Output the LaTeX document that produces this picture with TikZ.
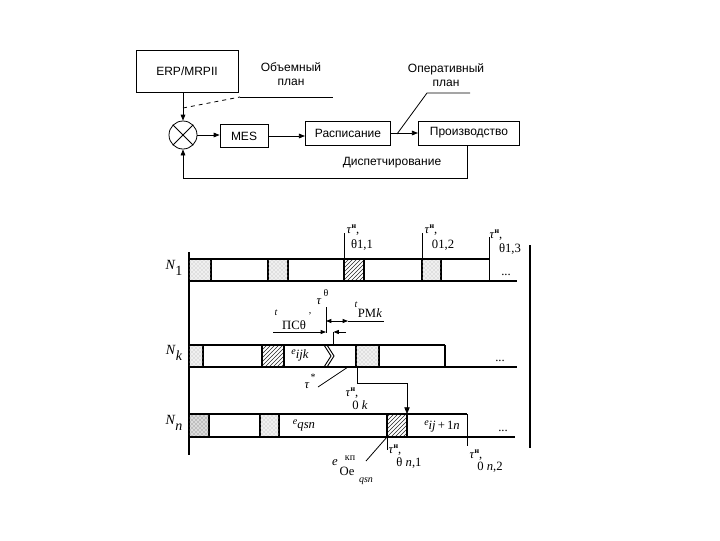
\documentclass[tikz,border=0pt]{standalone}
\usepackage{fontspec}
\setmainfont{Liberation Serif}
\newfontfamily\ars{Liberation Sans}
\usetikzlibrary{arrows.meta,patterns}
\newcommand{\smt}[1]{{\fontsize{7.5}{8}\selectfont #1}}
\newcommand{\tauh}{\textit{τ}\raisebox{3.5pt}{\fontsize{6}{6}\selectfont\bfseries н},}
\begin{document}
\begin{tikzpicture}[x=0.75pt,y=-0.75pt,
  box/.style={draw, line width=0.6pt, inner sep=0, font=\ars\fontsize{9}{10}\selectfont},
  sans/.style={font=\ars\fontsize{9}{10.5}\selectfont, align=center, inner sep=0},
  ln/.style={line width=0.6pt},
  arr/.style={ln, -{Triangle[length=4.5pt,width=3.5pt]}},
  ser/.style={font=\fontsize{9.5}{10}\selectfont, inner sep=0},
  rowl/.style={line width=1pt},
  edgel/.style={line width=1.2pt},
  dotblk/.style={fill=black!6, postaction={pattern=crosshatch dots, pattern color=black!32}},
  dotblkd/.style={fill=black!14, postaction={pattern=crosshatch dots, pattern color=black!60}},
  hatchblk/.style={pattern=north east lines, pattern color=black!85},
  axisl/.style={line width=2.2pt},
  dim/.style={line width=0.6pt, {Triangle[length=4pt,width=3pt]}-{Triangle[length=4pt,width=3pt]}},
  dimr/.style={line width=0.6pt, -{Triangle[length=4pt,width=3pt]}}]
\useasboundingbox (0,0) rectangle (720,540);

% ---------- top block diagram ----------
\node[box, minimum width=76.5pt, minimum height=31.5pt] (erp) at (187,71) {ERP/MRPII};
\node[draw, circle, ln, minimum size=21pt, inner sep=0] (sum) at (183,135) {};
\draw[ln] (sum.north west) -- (sum.south east);
\draw[ln] (sum.north east) -- (sum.south west);
\node[box, minimum width=36pt, minimum height=17pt] (mes) at (244,136) {MES};
\node[box, minimum width=64pt, minimum height=18pt] (rasp) at (348,133) {Расписание};
\node[box, minimum width=76pt, minimum height=18pt] (prod) at (469,133) {Производство};

\draw[arr] (erp.south -| sum.north) -- (sum.north);
\draw[arr] (sum.east) -- (sum.east -| mes.west);
\draw[arr] (mes.east) -- (mes.east -| rasp.west);
\draw[arr] (rasp.east) -- (prod.west);
\coordinate (fb) at (467,178);
\draw[arr] (prod.south -| fb) -- (fb) -| (sum.south);

\coordinate (d1) at (183,108);
\coordinate (d2) at (240,97);
\coordinate (d3) at (333,97);
\draw[ln, dashed] (d1) -- (d2);
\draw[ln] (d2) -- (d3);
\coordinate (o1) at (470,93);
\coordinate (o2) at (427,93);
\coordinate (o3) at (397,134);
\draw[ln] (o1) -- (o2) -- (o3);

\node[sans] (vol) at (291,74) {Объемный\\план};
\node[sans] (oper) at (446,75) {Оперативный\\план};
\node[sans] (disp) at (392,163) {Диспетчирование};

% ---------- lower timing diagram ----------
\draw[axisl] (189,252) -- (189,455);
\draw[axisl] (530,245) -- (530,448);

% row N1
\draw[dotblk, edgel] (189,259) rectangle (211,281);
\draw[dotblk, edgel] (268,259) rectangle (288,281);
\draw[hatchblk, edgel] (344,259) rectangle (364,281);
\draw[dotblk, edgel] (422,259) rectangle (441,281);
\draw[rowl] (189,259) -- (489,259);
\draw[rowl] (189,281) -- (517,281);
\draw[ln] (344,233) -- (344,259);
\draw[ln] (422,233) -- (422,259);
\draw[ln] (489,237) -- (489,281);
\node[ser] (dots1) at (506,275) {...};
\node[ser, font=\fontsize{10.5}{10}\selectfont] (n1) at (174,268) {\textit{N}\raisebox{-4pt}{1}};
\node[ser] (t11a) at (353,230) {\tauh};
\node[ser] (t11b) at (362,245) {θ1,1};
\node[ser] (t12a) at (431,230) {\tauh};
\node[ser] (t12b) at (443,245) {01,2};
\node[ser] (t13a) at (496,235) {\tauh};
\node[ser] (t13b) at (510,249) {θ1,3};

% row Nk
\draw[dotblk, edgel] (189,345) rectangle (203,367);
\draw[hatchblk, edgel] (262,345) rectangle (284,367);
\draw[dotblk, edgel] (356,345) rectangle (379,367);
\draw[rowl] (189,345) -- (445,345);
\draw[rowl] (189,367) -- (517,367);
\draw[edgel] (445,345) -- (445,367);
\draw[line width=0.7pt] (324,345) -- (331,356) -- (324,367);
\draw[line width=0.7pt] (327,345) -- (334,356) -- (327,367);
\node[ser] (dotsk) at (500,361) {...};
\node[ser, font=\fontsize{10.5}{10}\selectfont] (nk) at (174,353) {\textit{N}\raisebox{-4pt}{\textit{k}}};
\node[ser] (eijk) at (300,355) {\smt{\textit{e}}\raisebox{-3pt}{\textit{ijk}}};

% dimensions above Nk
\draw[ln] (326,307) -- (326,333);
\draw[ln] (333,332) -- (333,345);
\coordinate (pa) at (273,332);
\coordinate (pb) at (326,332);
\coordinate (pc) at (346,332);
\coordinate (pd) at (333.5,332);
\draw[dimr] (pa) -- (pb);
\draw[dimr] (pc) -- (pd);
\coordinate (ra) at (326,321);
\coordinate (rb) at (348,321);
\coordinate (rc) at (384,321);
\draw[dim] (ra) -- (rb);
\draw[ln] (rb) -- (rc);
\node[ser] (tps1) at (276,313) {\smt{\textit{t}}};
\node[ser] (tps2) at (294,325) {ПСθ};
\node[ser] (tpsc) at (310,314) {\smt{,}};
\node[ser] (tth) at (319,302) {\textit{τ}};
\node[ser] (tth2) at (326,293) {\smt{θ}};
\node[ser] (trm1) at (356,305) {\smt{\textit{t}}};
\node[ser] (trm2) at (370,313) {РМ\textit{k}};

% tau* leader
\coordinate (s1) at (348,367);
\coordinate (s2) at (318,387);
\draw[ln] (s1) -- (s2);
\node[ser] (tst) at (307,386) {\textit{τ}};
\node[ser] (tst2) at (313,377) {\smt{*}};

% arrow Nk -> Nn
\coordinate (q1) at (357,367);
\coordinate (q2) at (407,383);
\coordinate (q3) at (407,414);
\draw[ln, -{Triangle[length=5pt,width=4pt]}] (q1) |- (q2) -- (q3);
\node[ser] (t0ka) at (352,393) {\tauh};
\node[ser] (t0kb) at (360,405) {0 \textit{k}};

% row Nn
\draw[dotblkd, edgel] (189,414) rectangle (209,437);
\draw[dotblk, edgel] (260,414) rectangle (279,437);
\draw[hatchblk, edgel] (387,414) rectangle (407,437);
\draw[rowl] (189,414) -- (467,414);
\draw[rowl] (189,437) -- (515,437);
\draw[ln] (467,414) -- (467,446);
\draw[ln] (387,437) -- (387,450);
\coordinate (u1) at (387,437);
\coordinate (u2) at (366,461);
\draw[ln] (u1) -- (u2);
\node[ser] (dotsn) at (503,431) {...};
\node[ser, font=\fontsize{10.5}{10}\selectfont] (nn) at (174,423) {\textit{N}\raisebox{-4pt}{\textit{n}}};
\node[ser] (eqsn) at (304,425) {\smt{\textit{e}}\raisebox{-3pt}{\textit{qsn}}};
\node[ser] (eij) at (442,426) {\smt{\textit{e}}\raisebox{-3pt}{\textit{ij}\,+\,1\textit{n}}};
\node[ser] (tn1a) at (395,450) {\tauh};
\node[ser] (tn1b) at (409,463) {θ \textit{n},1};
\node[ser] (tn2a) at (476,455) {\tauh};
\node[ser] (tn2b) at (490,467) {0 \textit{n},2};
\node[ser] (ekp1) at (335,463) {\textit{e}};
\node[ser] (ekp2) at (350,458) {\smt{кп}};
\node[ser] (ekp3) at (347,471) {Oe};
\node[ser] (ekp4) at (366,481) {\smt{\textit{qsn}}};
\end{tikzpicture}
\end{document}
